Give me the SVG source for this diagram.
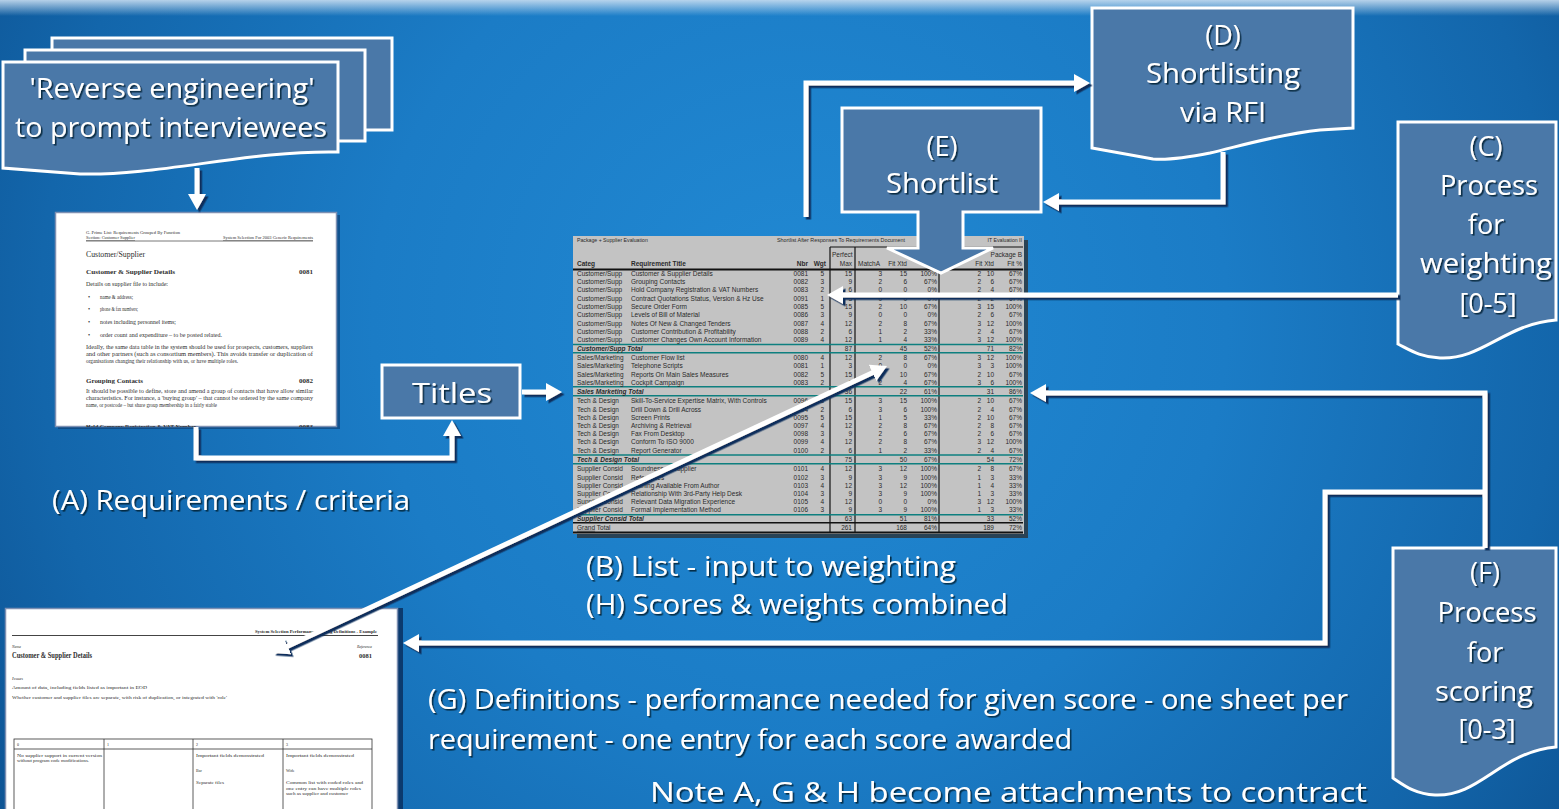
<svg xmlns="http://www.w3.org/2000/svg" width="1559" height="809" viewBox="0 0 1559 809">
<defs>
<radialGradient id="bg" gradientUnits="userSpaceOnUse" cx="800" cy="320" r="950">
<stop offset="0" stop-color="#2189D3"/>
<stop offset="0.45" stop-color="#1B7CC6"/>
<stop offset="0.8" stop-color="#1366AB"/>
<stop offset="1" stop-color="#0D5393"/>
</radialGradient>
<linearGradient id="topband" x1="0" y1="0" x2="0" y2="1">
<stop offset="0" stop-color="#C8DDF0" stop-opacity="0.9"/>
<stop offset="1" stop-color="#C8DDF0" stop-opacity="0"/>
</linearGradient>
<filter id="ts" x="-5%" y="-20%" width="110%" height="140%">
<feDropShadow dx="1.6" dy="1.6" stdDeviation="0.4" flood-color="#061a33" flood-opacity="0.85"/>
</filter>
<filter id="ls" x="-5%" y="-5%" width="110%" height="110%">
<feDropShadow dx="2.5" dy="2.5" stdDeviation="0.4" flood-color="#082E5C" flood-opacity="1"/>
</filter>
<marker id="ah" viewBox="0 0 16 18" refX="4" refY="9" markerWidth="16" markerHeight="18" markerUnits="userSpaceOnUse" orient="auto-start-reverse">
<path d="M0,0 L16,9 L0,18 Z" fill="#FFFFFF"/>
</marker>
<clipPath id="reqclip"><rect x="56" y="213" width="280" height="214"/></clipPath>
<clipPath id="defclip"><rect x="6" y="609" width="392" height="200"/></clipPath>
</defs>
<style>
.box{fill:#4A78A8;stroke:#FFFFFF;stroke-width:3;stroke-linejoin:miter}
.lbl{font-family:"Open Sans","Noto Sans","DejaVu Sans",sans-serif;fill:#FFFFFF;font-size:27px;filter:url(#ts)}
.mid{text-anchor:middle}
.con{fill:none;stroke:#FFFFFF;stroke-width:5;stroke-linejoin:miter;stroke-linecap:butt}
.sh{font-family:"Liberation Sans",Arial,sans-serif;font-size:6.5px;fill:#2A2A2A}
.shb{font-weight:bold;font-style:italic}
.e{text-anchor:end}
.doc{font-family:"Liberation Serif","Times New Roman",serif;fill:#2E2E2E}
.teal{stroke:#0E7F7F;stroke-width:1.6}
.blk{stroke:#111111;stroke-width:1.2}
</style>

<rect x="0" y="0" width="1559" height="809" fill="url(#bg)"/>
<rect x="0" y="0" width="1559" height="16" fill="url(#topband)"/>

<!-- Node: Reverse engineering (multi-document) -->
<g id="node-reverse">
<rect class="box" x="52" y="38" width="340" height="92"/>
<rect class="box" x="25" y="50" width="340" height="91"/>
<path class="box" d="M3,62 H338 V152 C250,150 160,176 80,174 L3,168 Z"/>
<text class="lbl mid" x="172" y="98" textLength="285" lengthAdjust="spacingAndGlyphs">'Reverse engineering'</text>
<text class="lbl mid" x="171" y="137" textLength="312" lengthAdjust="spacingAndGlyphs">to prompt interviewees</text>
</g>

<!-- Node: Requirements document (A) -->
<g id="node-requirements">
<rect x="58" y="215" width="282" height="214" fill="#0B3A6E" opacity="0.6"/>
<rect x="55.5" y="212.5" width="281" height="214" fill="#FFFFFF" stroke="#7D90B3" stroke-width="1.5"/>
<g clip-path="url(#reqclip)" class="doc">
<text x="86" y="234" font-size="4.3" textLength="94" lengthAdjust="spacingAndGlyphs">G. Prime List: Requirements Grouped By Function</text>
<text x="86" y="239" font-size="4.3" textLength="49" lengthAdjust="spacingAndGlyphs" text-decoration="underline">Section: Customer Supplier</text>
<text x="313" y="239" font-size="4.3" text-anchor="end" textLength="90" lengthAdjust="spacingAndGlyphs" text-decoration="underline">System Selection For 2003 Generic Requirements</text>
<line x1="86" y1="241" x2="313" y2="241" stroke="#555" stroke-width="0.8"/>
<text x="86" y="257" font-size="8" textLength="59" lengthAdjust="spacingAndGlyphs">Customer/Supplier</text>
<text x="86" y="274" font-size="7" font-weight="bold" textLength="89" lengthAdjust="spacingAndGlyphs">Customer &amp; Supplier Details</text>
<text x="313" y="274" font-size="7" font-weight="bold" text-anchor="end">0081</text>
<text x="86" y="286" font-size="6" textLength="82" lengthAdjust="spacingAndGlyphs">Details on supplier file to include:</text>
<text x="88" y="299" font-size="6">•</text>
<text x="100" y="299" font-size="6" textLength="33" lengthAdjust="spacingAndGlyphs">name &amp; address;</text>
<text x="88" y="311" font-size="6">•</text>
<text x="100" y="311" font-size="6" textLength="38" lengthAdjust="spacingAndGlyphs">phone &amp; fax numbers;</text>
<text x="88" y="324" font-size="6">•</text>
<text x="100" y="324" font-size="6" textLength="76" lengthAdjust="spacingAndGlyphs">notes including personnel items;</text>
<text x="88" y="337" font-size="6">•</text>
<text x="100" y="337" font-size="6" textLength="122" lengthAdjust="spacingAndGlyphs">order count and expenditure – to be posted related.</text>
<text x="86" y="349" font-size="6" textLength="227" lengthAdjust="spacingAndGlyphs">Ideally, the same data table in the system should be used for prospects, customers, suppliers</text>
<text x="86" y="356" font-size="6" textLength="227" lengthAdjust="spacingAndGlyphs">and other partners (such as consortium members). This avoids transfer or duplication of</text>
<text x="86" y="363" font-size="6" textLength="152" lengthAdjust="spacingAndGlyphs">organisations changing their relationship with us, or have multiple roles.</text>
<text x="86" y="383" font-size="7" font-weight="bold" textLength="57" lengthAdjust="spacingAndGlyphs">Grouping Contacts</text>
<text x="313" y="383" font-size="7" font-weight="bold" text-anchor="end">0082</text>
<text x="86" y="393" font-size="6" textLength="227" lengthAdjust="spacingAndGlyphs">It should be possible to define, store and amend a group of contacts that have allow similar</text>
<text x="86" y="400" font-size="6" textLength="227" lengthAdjust="spacingAndGlyphs">characteristics. For instance, a 'buying group' – that cannot be ordered by the same company</text>
<text x="86" y="407" font-size="6" textLength="131" lengthAdjust="spacingAndGlyphs">name, or postcode – but share group membership in a fairly stable</text>
<text x="86" y="429" font-size="7" font-weight="bold" textLength="110" lengthAdjust="spacingAndGlyphs">Hold Company Registration &amp; VAT Number</text>
<text x="313" y="429" font-size="7" font-weight="bold" text-anchor="end">0083</text>
</g>
</g>

<!-- Node: Titles -->
<g id="node-titles">
<rect class="box" x="382" y="365" width="138" height="53"/>
<text class="lbl mid" x="452" y="403" font-size="30" textLength="80" lengthAdjust="spacingAndGlyphs">Titles</text>
</g>

<!-- Node: Spreadsheet (B/H) -->
<g id="node-list">
<rect x="577" y="240" width="451" height="298" fill="#2E2E2E" opacity="0.75"/>
<rect x="573" y="236" width="451" height="298" fill="#C3C3C3"/>
<g class="sh">
<text x="577" y="241.5" font-size="5.2">Package + Supplier Evaluation</text>
<text x="777" y="241.5" font-size="5.2" textLength="128" lengthAdjust="spacingAndGlyphs">Shortlist After Responses To Requirements Document</text>
<text x="1022" y="241.5" font-size="5.2" class="e">IT Evaluation II</text>
<text x="832" y="257">Perfect</text>
<text x="1022" y="257" class="e">Package B</text>
<text x="577" y="266" font-weight="bold">Categ</text>
<text x="631" y="266" font-weight="bold">Requirement Title</text>
<text x="808" y="266" class="e" font-weight="bold">Nbr</text>
<text x="826" y="266" class="e" font-weight="bold">Wgt</text>
<text x="852" y="266" class="e">Max</text>
<text x="858" y="266">MatchA</text>
<text x="907" y="266" class="e">Fit Xtd</text>
<text x="937" y="266" class="e">Fit %</text>
<text x="994" y="266" class="e">Fit Xtd</text>
<text x="1022" y="266" class="e">Fit %</text>
</g>
<g stroke-linecap="butt">
<line class="blk" x1="830" y1="247" x2="1023" y2="247"/>
<line x1="573" y1="269.5" x2="1023" y2="269.5" stroke="#111" stroke-width="1.8"/>
<line class="blk" x1="830" y1="247" x2="830" y2="533"/>
<line class="blk" x1="855" y1="247" x2="855" y2="533"/>
<line class="blk" x1="939" y1="247" x2="939" y2="533"/>
<line class="teal" x1="573" y1="344.5" x2="1023" y2="344.5"/>
<line class="teal" x1="573" y1="352.7" x2="1023" y2="352.7"/>
<line class="teal" x1="573" y1="386.8" x2="1023" y2="386.8"/>
<line class="teal" x1="573" y1="395.8" x2="1023" y2="395.8"/>
<line class="teal" x1="573" y1="455" x2="1023" y2="455"/>
<line class="teal" x1="573" y1="463.8" x2="1023" y2="463.8"/>
<line class="teal" x1="573" y1="514.8" x2="1023" y2="514.8"/>
<line x1="573" y1="522.8" x2="1023" y2="522.8" stroke="#111" stroke-width="1.6"/>
<line x1="573" y1="532.5" x2="1023" y2="532.5" stroke="#111" stroke-width="1.8"/>
</g>
<g class="sh">
<text x="577"><tspan x="577" y="275.6">Customer/Supp</tspan><tspan x="577" y="283.9">Customer/Supp</tspan><tspan x="577" y="292.3">Customer/Supp</tspan><tspan x="577" y="300.6">Customer/Supp</tspan><tspan x="577" y="308.9">Customer/Supp</tspan><tspan x="577" y="317.3">Customer/Supp</tspan><tspan x="577" y="325.6">Customer/Supp</tspan><tspan x="577" y="333.9">Customer/Supp</tspan><tspan x="577" y="342.3">Customer/Supp</tspan><tspan x="577" y="360">Sales/Marketing</tspan><tspan x="577" y="368.3">Sales/Marketing</tspan><tspan x="577" y="376.6">Sales/Marketing</tspan><tspan x="577" y="385">Sales/Marketing</tspan><tspan x="577" y="403.3">Tech &amp; Design</tspan><tspan x="577" y="411.6">Tech &amp; Design</tspan><tspan x="577" y="420">Tech &amp; Design</tspan><tspan x="577" y="428">Tech &amp; Design</tspan><tspan x="577" y="436">Tech &amp; Design</tspan><tspan x="577" y="444.3">Tech &amp; Design</tspan><tspan x="577" y="452.6">Tech &amp; Design</tspan><tspan x="577" y="471.3">Supplier Consid</tspan><tspan x="577" y="479.6">Supplier Consid</tspan><tspan x="577" y="488">Supplier Consid</tspan><tspan x="577" y="496">Supplier Consid</tspan><tspan x="577" y="504">Supplier Consid</tspan><tspan x="577" y="512">Supplier Consid</tspan></text>
<text class="shb"><tspan x="577" y="350.6">Customer/Supp Total</tspan><tspan x="577" y="393.8">Sales Marketing Total</tspan><tspan x="577" y="461.6">Tech &amp; Design Total</tspan><tspan x="577" y="520.6">Supplier Consid Total</tspan></text>
<text><tspan x="577" y="529.8" text-decoration="underline">Grand</tspan><tspan> Total</tspan></text>
<text><tspan x="631" y="275.6">Customer &amp; Supplier Details</tspan><tspan x="631" y="283.9">Grouping Contacts</tspan><tspan x="631" y="292.3">Hold Company Registration &amp; VAT Numbers</tspan><tspan x="631" y="300.6">Contract Quotations Status, Version &amp; Hz Use</tspan><tspan x="631" y="308.9">Secure Order Form</tspan><tspan x="631" y="317.3">Levels of Bill of Material</tspan><tspan x="631" y="325.6">Notes Of New &amp; Changed Tenders</tspan><tspan x="631" y="333.9">Customer Contribution &amp; Profitability</tspan><tspan x="631" y="342.3">Customer Changes Own Account Information</tspan><tspan x="631" y="360">Customer Flow list</tspan><tspan x="631" y="368.3">Telephone Scripts</tspan><tspan x="631" y="376.6">Reports On Main Sales Measures</tspan><tspan x="631" y="385">Cockpit Campaign</tspan><tspan x="631" y="403.3">Skill-To-Service Expertise Matrix, With Controls</tspan><tspan x="631" y="411.6">Drill Down &amp; Drill Across</tspan><tspan x="631" y="420">Screen Prints</tspan><tspan x="631" y="428">Archiving &amp; Retrieval</tspan><tspan x="631" y="436">Fax From Desktop</tspan><tspan x="631" y="444.3">Conform To ISO 9000</tspan><tspan x="631" y="452.6">Report Generator</tspan><tspan x="631" y="471.3">Soundness of Supplier</tspan><tspan x="631" y="479.6">References</tspan><tspan x="631" y="488">Training Available From Author</tspan><tspan x="631" y="496">Relationship With 3rd-Party Help Desk</tspan><tspan x="631" y="504">Relevant Data Migration Experience</tspan><tspan x="631" y="512">Formal Implementation Method</tspan></text>
<text class="e"><tspan x="808" y="275.6">0081</tspan><tspan x="808" y="283.9">0082</tspan><tspan x="808" y="292.3">0083</tspan><tspan x="808" y="300.6">0091</tspan><tspan x="808" y="308.9">0085</tspan><tspan x="808" y="317.3">0086</tspan><tspan x="808" y="325.6">0087</tspan><tspan x="808" y="333.9">0088</tspan><tspan x="808" y="342.3">0089</tspan><tspan x="808" y="360">0080</tspan><tspan x="808" y="368.3">0081</tspan><tspan x="808" y="376.6">0082</tspan><tspan x="808" y="385">0083</tspan><tspan x="808" y="403.3">0096</tspan><tspan x="808" y="411.6">0094</tspan><tspan x="808" y="420">0095</tspan><tspan x="808" y="428">0097</tspan><tspan x="808" y="436">0098</tspan><tspan x="808" y="444.3">0099</tspan><tspan x="808" y="452.6">0100</tspan><tspan x="808" y="471.3">0101</tspan><tspan x="808" y="479.6">0102</tspan><tspan x="808" y="488">0103</tspan><tspan x="808" y="496">0104</tspan><tspan x="808" y="504">0105</tspan><tspan x="808" y="512">0106</tspan></text>
<text class="e"><tspan x="824" y="275.6">5</tspan><tspan x="824" y="283.9">3</tspan><tspan x="824" y="292.3">2</tspan><tspan x="824" y="300.6">1</tspan><tspan x="824" y="308.9">5</tspan><tspan x="824" y="317.3">3</tspan><tspan x="824" y="325.6">4</tspan><tspan x="824" y="333.9">2</tspan><tspan x="824" y="342.3">4</tspan><tspan x="824" y="360">4</tspan><tspan x="824" y="368.3">1</tspan><tspan x="824" y="376.6">5</tspan><tspan x="824" y="385">2</tspan><tspan x="824" y="403.3">5</tspan><tspan x="824" y="411.6">2</tspan><tspan x="824" y="420">5</tspan><tspan x="824" y="428">4</tspan><tspan x="824" y="436">3</tspan><tspan x="824" y="444.3">4</tspan><tspan x="824" y="452.6">2</tspan><tspan x="824" y="471.3">4</tspan><tspan x="824" y="479.6">3</tspan><tspan x="824" y="488">4</tspan><tspan x="824" y="496">3</tspan><tspan x="824" y="504">4</tspan><tspan x="824" y="512">3</tspan></text>
<text class="e"><tspan x="852" y="275.6">15</tspan><tspan x="852" y="283.9">9</tspan><tspan x="852" y="292.3">6</tspan><tspan x="852" y="300.6">3</tspan><tspan x="852" y="308.9">15</tspan><tspan x="852" y="317.3">9</tspan><tspan x="852" y="325.6">12</tspan><tspan x="852" y="333.9">6</tspan><tspan x="852" y="342.3">12</tspan><tspan x="852" y="350.6">87</tspan><tspan x="852" y="360">12</tspan><tspan x="852" y="368.3">3</tspan><tspan x="852" y="376.6">15</tspan><tspan x="852" y="385">6</tspan><tspan x="852" y="393.8">36</tspan><tspan x="852" y="403.3">15</tspan><tspan x="852" y="411.6">6</tspan><tspan x="852" y="420">15</tspan><tspan x="852" y="428">12</tspan><tspan x="852" y="436">9</tspan><tspan x="852" y="444.3">12</tspan><tspan x="852" y="452.6">6</tspan><tspan x="852" y="461.6">75</tspan><tspan x="852" y="471.3">12</tspan><tspan x="852" y="479.6">9</tspan><tspan x="852" y="488">12</tspan><tspan x="852" y="496">9</tspan><tspan x="852" y="504">12</tspan><tspan x="852" y="512">9</tspan><tspan x="852" y="520.6">63</tspan><tspan x="852" y="529.8">261</tspan></text>
<text class="e"><tspan x="882" y="275.6">3</tspan><tspan x="882" y="283.9">2</tspan><tspan x="882" y="292.3">0</tspan><tspan x="882" y="300.6">0</tspan><tspan x="882" y="308.9">2</tspan><tspan x="882" y="317.3">0</tspan><tspan x="882" y="325.6">2</tspan><tspan x="882" y="333.9">1</tspan><tspan x="882" y="342.3">1</tspan><tspan x="882" y="360">2</tspan><tspan x="882" y="368.3">0</tspan><tspan x="882" y="376.6">2</tspan><tspan x="882" y="385">2</tspan><tspan x="882" y="403.3">3</tspan><tspan x="882" y="411.6">3</tspan><tspan x="882" y="420">1</tspan><tspan x="882" y="428">2</tspan><tspan x="882" y="436">2</tspan><tspan x="882" y="444.3">2</tspan><tspan x="882" y="452.6">1</tspan><tspan x="882" y="471.3">3</tspan><tspan x="882" y="479.6">3</tspan><tspan x="882" y="488">3</tspan><tspan x="882" y="496">3</tspan><tspan x="882" y="504">0</tspan><tspan x="882" y="512">3</tspan></text>
<text class="e"><tspan x="907" y="275.6">15</tspan><tspan x="907" y="283.9">6</tspan><tspan x="907" y="292.3">0</tspan><tspan x="907" y="300.6">0</tspan><tspan x="907" y="308.9">10</tspan><tspan x="907" y="317.3">0</tspan><tspan x="907" y="325.6">8</tspan><tspan x="907" y="333.9">2</tspan><tspan x="907" y="342.3">4</tspan><tspan x="907" y="350.6">45</tspan><tspan x="907" y="360">8</tspan><tspan x="907" y="368.3">0</tspan><tspan x="907" y="376.6">10</tspan><tspan x="907" y="385">4</tspan><tspan x="907" y="393.8">22</tspan><tspan x="907" y="403.3">15</tspan><tspan x="907" y="411.6">6</tspan><tspan x="907" y="420">5</tspan><tspan x="907" y="428">8</tspan><tspan x="907" y="436">6</tspan><tspan x="907" y="444.3">8</tspan><tspan x="907" y="452.6">2</tspan><tspan x="907" y="461.6">50</tspan><tspan x="907" y="471.3">12</tspan><tspan x="907" y="479.6">9</tspan><tspan x="907" y="488">12</tspan><tspan x="907" y="496">9</tspan><tspan x="907" y="504">0</tspan><tspan x="907" y="512">9</tspan><tspan x="907" y="520.6">51</tspan><tspan x="907" y="529.8">168</tspan></text>
<text class="e"><tspan x="937" y="275.6">100%</tspan><tspan x="937" y="283.9">67%</tspan><tspan x="937" y="292.3">0%</tspan><tspan x="937" y="300.6">0%</tspan><tspan x="937" y="308.9">67%</tspan><tspan x="937" y="317.3">0%</tspan><tspan x="937" y="325.6">67%</tspan><tspan x="937" y="333.9">33%</tspan><tspan x="937" y="342.3">33%</tspan><tspan x="937" y="350.6">52%</tspan><tspan x="937" y="360">67%</tspan><tspan x="937" y="368.3">0%</tspan><tspan x="937" y="376.6">67%</tspan><tspan x="937" y="385">67%</tspan><tspan x="937" y="393.8">61%</tspan><tspan x="937" y="403.3">100%</tspan><tspan x="937" y="411.6">100%</tspan><tspan x="937" y="420">33%</tspan><tspan x="937" y="428">67%</tspan><tspan x="937" y="436">67%</tspan><tspan x="937" y="444.3">67%</tspan><tspan x="937" y="452.6">33%</tspan><tspan x="937" y="461.6">67%</tspan><tspan x="937" y="471.3">100%</tspan><tspan x="937" y="479.6">100%</tspan><tspan x="937" y="488">100%</tspan><tspan x="937" y="496">100%</tspan><tspan x="937" y="504">0%</tspan><tspan x="937" y="512">100%</tspan><tspan x="937" y="520.6">81%</tspan><tspan x="937" y="529.8">64%</tspan></text>
<text class="e"><tspan x="981" y="275.6">2</tspan><tspan x="981" y="283.9">2</tspan><tspan x="981" y="292.3">2</tspan><tspan x="981" y="300.6">2</tspan><tspan x="981" y="308.9">3</tspan><tspan x="981" y="317.3">2</tspan><tspan x="981" y="325.6">3</tspan><tspan x="981" y="333.9">2</tspan><tspan x="981" y="342.3">3</tspan><tspan x="981" y="360">3</tspan><tspan x="981" y="368.3">3</tspan><tspan x="981" y="376.6">2</tspan><tspan x="981" y="385">3</tspan><tspan x="981" y="403.3">2</tspan><tspan x="981" y="411.6">2</tspan><tspan x="981" y="420">2</tspan><tspan x="981" y="428">2</tspan><tspan x="981" y="436">2</tspan><tspan x="981" y="444.3">3</tspan><tspan x="981" y="452.6">2</tspan><tspan x="981" y="471.3">2</tspan><tspan x="981" y="479.6">1</tspan><tspan x="981" y="488">1</tspan><tspan x="981" y="496">1</tspan><tspan x="981" y="504">3</tspan><tspan x="981" y="512">1</tspan></text>
<text class="e"><tspan x="994" y="275.6">10</tspan><tspan x="994" y="283.9">6</tspan><tspan x="994" y="292.3">4</tspan><tspan x="994" y="300.6">2</tspan><tspan x="994" y="308.9">15</tspan><tspan x="994" y="317.3">6</tspan><tspan x="994" y="325.6">12</tspan><tspan x="994" y="333.9">4</tspan><tspan x="994" y="342.3">12</tspan><tspan x="994" y="350.6">71</tspan><tspan x="994" y="360">12</tspan><tspan x="994" y="368.3">3</tspan><tspan x="994" y="376.6">10</tspan><tspan x="994" y="385">6</tspan><tspan x="994" y="393.8">31</tspan><tspan x="994" y="403.3">10</tspan><tspan x="994" y="411.6">4</tspan><tspan x="994" y="420">10</tspan><tspan x="994" y="428">8</tspan><tspan x="994" y="436">6</tspan><tspan x="994" y="444.3">12</tspan><tspan x="994" y="452.6">4</tspan><tspan x="994" y="461.6">54</tspan><tspan x="994" y="471.3">8</tspan><tspan x="994" y="479.6">3</tspan><tspan x="994" y="488">4</tspan><tspan x="994" y="496">3</tspan><tspan x="994" y="504">12</tspan><tspan x="994" y="512">3</tspan><tspan x="994" y="520.6">33</tspan><tspan x="994" y="529.8">189</tspan></text>
<text class="e"><tspan x="1022" y="275.6">67%</tspan><tspan x="1022" y="283.9">67%</tspan><tspan x="1022" y="292.3">67%</tspan><tspan x="1022" y="300.6">67%</tspan><tspan x="1022" y="308.9">100%</tspan><tspan x="1022" y="317.3">67%</tspan><tspan x="1022" y="325.6">100%</tspan><tspan x="1022" y="333.9">67%</tspan><tspan x="1022" y="342.3">100%</tspan><tspan x="1022" y="350.6">82%</tspan><tspan x="1022" y="360">100%</tspan><tspan x="1022" y="368.3">100%</tspan><tspan x="1022" y="376.6">67%</tspan><tspan x="1022" y="385">100%</tspan><tspan x="1022" y="393.8">86%</tspan><tspan x="1022" y="403.3">67%</tspan><tspan x="1022" y="411.6">67%</tspan><tspan x="1022" y="420">67%</tspan><tspan x="1022" y="428">67%</tspan><tspan x="1022" y="436">67%</tspan><tspan x="1022" y="444.3">100%</tspan><tspan x="1022" y="452.6">67%</tspan><tspan x="1022" y="461.6">72%</tspan><tspan x="1022" y="471.3">67%</tspan><tspan x="1022" y="479.6">33%</tspan><tspan x="1022" y="488">33%</tspan><tspan x="1022" y="496">33%</tspan><tspan x="1022" y="504">100%</tspan><tspan x="1022" y="512">33%</tspan><tspan x="1022" y="520.6">52%</tspan><tspan x="1022" y="529.8">72%</tspan></text>
</g>
</g>

<!-- Node: Definitions document (G) -->
<g id="node-definitions">
<rect x="396" y="608" width="7" height="201" fill="#0B3A6E"/>
<rect x="5.5" y="608.5" width="392" height="205" fill="#FFFFFF" stroke="#7D90B3" stroke-width="1.5"/>
<g clip-path="url(#defclip)" class="doc">
<text x="377" y="633" font-size="5" font-weight="bold" text-anchor="end" textLength="122" lengthAdjust="spacingAndGlyphs">System Selection Performance Scoring Definitions - Example</text>
<line x1="12" y1="635.5" x2="378" y2="635.5" stroke="#444" stroke-width="1"/>
<text x="12" y="648" font-size="3.8" font-style="italic">Name</text>
<text x="12" y="658" font-size="7.5" font-weight="bold" textLength="80" lengthAdjust="spacingAndGlyphs">Customer &amp; Supplier Details</text>
<text x="372" y="648" font-size="3.8" font-style="italic" text-anchor="end">Reference</text>
<text x="372" y="658" font-size="6.5" font-weight="bold" text-anchor="end">0081</text>
<text x="12" y="680" font-size="4.5" font-style="italic">Issues</text>
<text x="12" y="689" font-size="4.5" textLength="135" lengthAdjust="spacingAndGlyphs">Amount of data, including fields listed as important in EOD</text>
<text x="12" y="699" font-size="4.5" textLength="215" lengthAdjust="spacingAndGlyphs">Whether customer and supplier files are separate, with risk of duplication, or integrated with 'role'</text>
<g fill="none" stroke="#333" stroke-width="0.8">
<rect x="14" y="739" width="358" height="80"/>
<line x1="14" y1="749" x2="372" y2="749"/>
<line x1="104" y1="739" x2="104" y2="819"/>
<line x1="193" y1="739" x2="193" y2="819"/>
<line x1="283" y1="739" x2="283" y2="819"/>
</g>
<text x="17" y="746" font-size="4">0</text>
<text x="107" y="746" font-size="4">1</text>
<text x="196" y="746" font-size="4">2</text>
<text x="286" y="746" font-size="4">3</text>
<text x="17" y="757" font-size="4" textLength="85" lengthAdjust="spacingAndGlyphs">No supplier support in current version</text>
<text x="17" y="762" font-size="4" textLength="72" lengthAdjust="spacingAndGlyphs">without program code modifications.</text>
<text x="196" y="757" font-size="4" textLength="68" lengthAdjust="spacingAndGlyphs">Important fields demonstrated</text>
<text x="196" y="772" font-size="4">Bar</text>
<text x="196" y="784" font-size="4" textLength="28" lengthAdjust="spacingAndGlyphs">Separate files</text>
<text x="286" y="757" font-size="4" textLength="68" lengthAdjust="spacingAndGlyphs">Important fields demonstrated</text>
<text x="286" y="772" font-size="4">Wide</text>
<text x="286" y="784" font-size="4" textLength="77" lengthAdjust="spacingAndGlyphs">Common list with coded roles and</text>
<text x="286" y="789.5" font-size="4" textLength="75" lengthAdjust="spacingAndGlyphs">one entry can have multiple roles</text>
<text x="286" y="795" font-size="4" textLength="62" lengthAdjust="spacingAndGlyphs">such as supplier and customer</text>
</g>
</g>

<!-- Node: (D) Shortlisting via RFI -->
<g id="node-D">
<path class="box" d="M1092,8 H1353 V128 L1320,130 C1280,134 1240,146 1210,153 C1185,158 1165,160 1153,159 L1092,148 Z"/>
<text class="lbl mid" x="1223" y="45">(D)</text>
<text class="lbl mid" x="1223" y="83" textLength="154" lengthAdjust="spacingAndGlyphs">Shortlisting</text>
<text class="lbl mid" x="1223" y="122" textLength="86" lengthAdjust="spacingAndGlyphs">via RFI</text>
</g>

<!-- Node: (C) Process for weighting -->
<g id="node-C">
<path class="box" d="M1398,122 H1556 V320 C1505,324 1482,360 1440,358 C1420,357 1410,350 1398,344 Z"/>
<text class="lbl mid" x="1486" y="156">(C)</text>
<text class="lbl mid" x="1489" y="195" textLength="98" lengthAdjust="spacingAndGlyphs">Process</text>
<text class="lbl mid" x="1486" y="234">for</text>
<text class="lbl mid" x="1486" y="273" textLength="132" lengthAdjust="spacingAndGlyphs">weighting</text>
<text class="lbl mid" x="1488" y="313">[0-5]</text>
</g>

<!-- Node: (F) Process for scoring -->
<g id="node-F">
<path class="box" d="M1393,548 H1556 V747 C1500,752 1480,797 1435,795 C1415,794 1405,786 1393,778 Z"/>
<text class="lbl mid" x="1485" y="582">(F)</text>
<text class="lbl mid" x="1487" y="622" textLength="99" lengthAdjust="spacingAndGlyphs">Process</text>
<text class="lbl mid" x="1485" y="662">for</text>
<text class="lbl mid" x="1484" y="701" textLength="98" lengthAdjust="spacingAndGlyphs">scoring</text>
<text class="lbl mid" x="1487" y="739">[0-3]</text>
</g>

<!-- Connectors -->
<g id="connectors" filter="url(#ls)">
<path class="con" d="M197,168 V198" marker-end="url(#ah)"/>
<path class="con" d="M196,427 V458 H452 V432" marker-end="url(#ah)"/>
<path class="con" d="M522,392 H550" marker-end="url(#ah)"/>
<path class="con" d="M806,217 V83 H1078" marker-end="url(#ah)"/>
<path class="con" d="M1223,152 V202 H1055" marker-end="url(#ah)"/>
<path class="con" d="M1398,295 H839" marker-end="url(#ah)"/>
<path class="con" d="M1485,548 V393 H1042" marker-end="url(#ah)"/>
<path class="con" d="M1485,492 H1325 V643 H415" marker-end="url(#ah)"/>
<path class="con" d="M283.9,647.9 L876.1,371.1" marker-start="url(#ah)" marker-end="url(#ah)"/>
</g>

<!-- Node: (E) Shortlist (drawn over sheet) -->
<g id="node-E">
<path class="box" d="M842,108 H1041 V212 H963 V248 H993 L941,273 L887,248 H918 V212 H842 Z"/>
<text class="lbl mid" x="942" y="156">(E)</text>
<text class="lbl mid" x="942" y="193" textLength="112" lengthAdjust="spacingAndGlyphs">Shortlist</text>
</g>

<!-- Free labels -->
<g id="labels">
<text class="lbl" x="52" y="510" textLength="358" lengthAdjust="spacingAndGlyphs">(A) Requirements / criteria</text>
<text class="lbl" x="586" y="576" textLength="370" lengthAdjust="spacingAndGlyphs">(B) List - input to weighting</text>
<text class="lbl" x="586" y="614" textLength="422" lengthAdjust="spacingAndGlyphs">(H) Scores &amp; weights combined</text>
<text class="lbl" x="428" y="709" textLength="920" lengthAdjust="spacingAndGlyphs">(G) Definitions - performance needed for given score - one sheet per</text>
<text class="lbl" x="428" y="749" textLength="644" lengthAdjust="spacingAndGlyphs">requirement - one entry for each score awarded</text>
<text class="lbl" x="650" y="802" textLength="717" lengthAdjust="spacingAndGlyphs">Note A, G &amp; H become attachments to contract</text>
</g>
</svg>
